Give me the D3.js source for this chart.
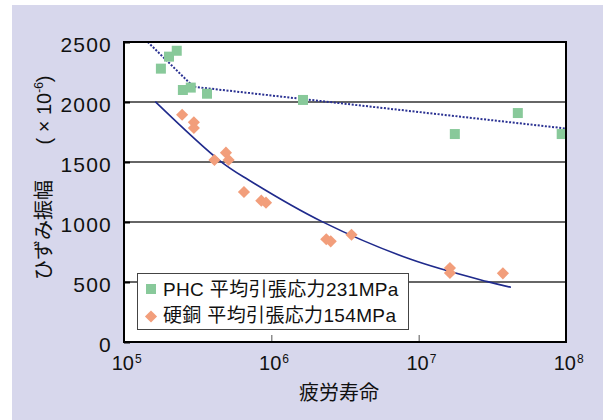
<!DOCTYPE html>
<html>
<head>
<meta charset="utf-8">
<script src="https://cdn.jsdelivr.net/npm/d3@7"></script>
<style>
  html, body { margin: 0; padding: 0; background: #ffffff; }
  svg { display: block; }
  text { font-family: "Liberation Sans", Arial, "Noto Sans CJK JP", sans-serif; fill: #111; }
</style>
</head>
<body>
<svg id="chart" width="603" height="420"></svg>
<script>
// PHC: fatigue life (cycles) and strain amplitude (×10^-6)
const phcLife   = [2.28e5, 2.02e5, 1.78e5, 2.51e5, 2.84e5, 3.66e5, 1.64e6, 1.76e7, 4.71e7, 9.35e7];
const phcStrain = [2427, 2378, 2278, 2100, 2120, 2069, 2017, 1733, 1908, 1733];

// Hard-drawn copper
const cuLife   = [2.48e5, 2.98e5, 2.98e5, 4.11e5, 4.92e5, 5.13e5, 6.52e5, 8.55e5, 9.20e5,
                  2.36e6, 2.53e6, 3.50e6, 1.63e7, 1.63e7, 3.73e7];
const cuStrain = [1894, 1831, 1783, 1517, 1578, 1517, 1250, 1178, 1161,
                  856, 839, 894, 617, 575, 572];

// Trend lines
const phcFitLife   = [1.45e5, 2.96e5, 1e8];
const phcFitStrain = [2500, 2127, 1779];
const cuFitLife    = [1.63e5, 4.50e5, 7.02e5, 2.21e6, 8.83e6, 2.93e7, 4.23e7];
const cuFitStrain  = [2003, 1508, 1350, 1003, 689, 503, 456];

// Axis ticks and labels
const xTicks = [1e5, 1e6, 1e7, 1e8];
const xExponents = ["5", "6", "7", "8"];
const yTicks = [0, 500, 1000, 1500, 2000, 2500];
const legendLabels = ["PHC 平均引張応力231MPa", "硬銅 平均引張応力154MPa"];
const xTitle = "疲労寿命";
const yTitle = "ひずみ振幅";

const svg = d3.select("#chart");
const W = 603, H = 420;
const plot = { left: 124, right: 566, top: 42, bottom: 342 };

// Lavender panel
svg.append("rect").attr("x", 12).attr("y", 5).attr("width", W - 12).attr("height", H - 5)
  .attr("fill", "#d7d7ec");

const x = d3.scaleLog().domain([1e5, 1e8]).range([plot.left, plot.right]);
const y = d3.scaleLinear().domain([0, 2500]).range([plot.bottom, plot.top]);

// Plot background
svg.append("rect")
  .attr("x", plot.left).attr("y", plot.top)
  .attr("width", plot.right - plot.left).attr("height", plot.bottom - plot.top)
  .attr("fill", "#ffffff");

// Horizontal grid lines
svg.append("g").selectAll("line")
  .data(yTicks.filter(d => d > 0 && d < 2500))
  .join("line")
  .attr("x1", plot.left).attr("x2", plot.right)
  .attr("y1", d => y(d)).attr("y2", d => y(d))
  .attr("stroke", "#333").attr("stroke-width", 1.3);

// Y axis with inward ticks
const yAxis = svg.append("g")
  .attr("transform", `translate(${plot.left},0)`)
  .call(d3.axisLeft(y).tickValues(yTicks).tickSize(-6).tickPadding(12).tickFormat(d3.format("d")));
yAxis.select(".domain").remove();
yAxis.selectAll(".tick line").attr("stroke", "#000").attr("stroke-width", 2);
yAxis.selectAll(".tick text")
  .attr("font-size", 21).attr("letter-spacing", 1.2).attr("dy", "0.45em")
  .style("font-family", '"Liberation Sans", Arial, sans-serif').attr("fill", "#111");

// X axis inner ticks
const xAxis = svg.append("g")
  .attr("transform", `translate(0,${plot.bottom})`)
  .call(d3.axisBottom(x).tickValues([1e6, 1e7]).tickSize(-7).tickFormat(""));
xAxis.select(".domain").remove();
xAxis.selectAll(".tick line").attr("stroke", "#555").attr("stroke-width", 1);

// X tick labels as 10 with superscript exponent
svg.append("g").selectAll("text").data(xTicks).join("text")
  .attr("x", d => x(d) + 10).attr("y", 370).attr("font-size", 20)
  .attr("text-anchor", "end").text("10");
svg.append("g").selectAll("text").data(xTicks).join("text")
  .attr("x", d => x(d) + 11).attr("y", 363).attr("font-size", 12)
  .text((d, i) => xExponents[i]);

// Clip for series
svg.append("clipPath").attr("id", "plotClip").append("rect")
  .attr("x", plot.left).attr("y", plot.top)
  .attr("width", plot.right - plot.left).attr("height", plot.bottom - plot.top);

const series = svg.append("g").attr("clip-path", "url(#plotClip)");

// PHC trend (dotted)
series.append("path")
  .datum(phcFitLife.map((d, i) => [d, phcFitStrain[i]]))
  .attr("d", d3.line().x(d => x(d[0])).y(d => y(d[1])))
  .attr("fill", "none").attr("stroke", "#2a3192").attr("stroke-width", 2)
  .attr("stroke-dasharray", "2,1.6");

// Copper trend (solid curve)
series.append("path")
  .datum(cuFitLife.map((d, i) => [d, cuFitStrain[i]]))
  .attr("d", d3.line().x(d => x(d[0])).y(d => y(d[1])).curve(d3.curveCatmullRom))
  .attr("fill", "none").attr("stroke", "#1f2a8c").attr("stroke-width", 1.6);

const sqColor = "#88c99a";
const dmColor = "#f29e7b";
const square = d3.symbol(d3.symbolSquare, 100);
const diamond = d3.symbol(d3.symbolSquare, 74);

series.append("g").selectAll("path")
  .data(phcLife.map((d, i) => [d, phcStrain[i]]))
  .join("path")
  .attr("d", square)
  .attr("transform", d => `translate(${x(d[0])},${y(d[1])})`)
  .attr("fill", sqColor);

series.append("g").selectAll("path")
  .data(cuLife.map((d, i) => [d, cuStrain[i]]))
  .join("path")
  .attr("d", diamond)
  .attr("transform", d => `translate(${x(d[0])},${y(d[1])}) rotate(45)`)
  .attr("fill", dmColor);

// Legend
const lg = svg.append("g");
lg.append("rect").attr("x", 137.5).attr("y", 273.5).attr("width", 271).attr("height", 56)
  .attr("fill", "#ffffff").attr("stroke", "#444").attr("stroke-width", 1);
lg.append("path").attr("d", square).attr("transform", "translate(151,289)").attr("fill", sqColor);
lg.append("path").attr("d", diamond).attr("transform", "translate(151,316.5) rotate(45)").attr("fill", dmColor);
lg.selectAll("text.lab").data(legendLabels).join("text")
  .attr("class", "lab")
  .attr("x", 163).attr("y", (d, i) => 296 + i * 26)
  .attr("font-size", 19).attr("letter-spacing", 0.35)
  .text(d => d);

// Plot frame
svg.append("rect")
  .attr("x", plot.left).attr("y", plot.top)
  .attr("width", plot.right - plot.left).attr("height", plot.bottom - plot.top)
  .attr("fill", "none").attr("stroke", "#000").attr("stroke-width", 2);

// Axis titles
svg.append("text").attr("x", 339).attr("y", 400).attr("text-anchor", "middle")
  .attr("font-size", 20).text(xTitle);

const yt = svg.append("g").attr("transform", "translate(51,0) rotate(-90)");
yt.append("text").attr("x", -230).attr("y", 0).attr("text-anchor", "middle")
  .attr("font-size", 20).text(yTitle);
const unit = yt.append("text").attr("x", -110).attr("y", 0).attr("text-anchor", "middle")
  .attr("font-size", 20);
unit.append("tspan").text("( × 10");
unit.append("tspan").attr("font-size", 12).attr("dy", -8).text("-6");
unit.append("tspan").attr("dy", 8).text(")");
</script>
</body>
</html>
